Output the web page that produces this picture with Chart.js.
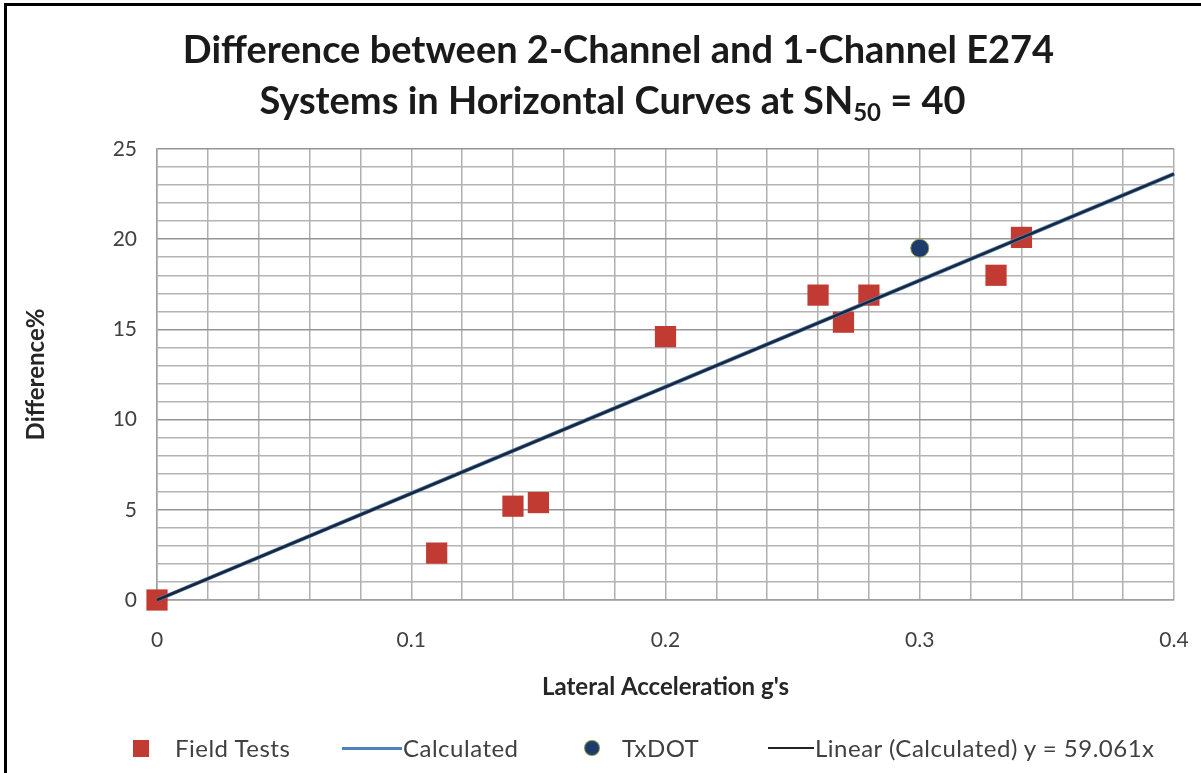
<!DOCTYPE html>
<html>
<head>
<meta charset="utf-8">
<script src="https://cdn.jsdelivr.net/npm/chart.js@4/dist/chart.umd.min.js"></script>
<style>
    html, body { margin: 0; padding: 0; background: #fff; }
    body { width: 1201px; height: 773px; position: relative; overflow: hidden; font-family: Lato, "Open Sans", sans-serif; }
    .frame { position: absolute; left: 4px; top: 3px; width: 1300px; height: 900px; border-left: 3px solid #000; border-top: 3px solid #000; }
    #chart { position: absolute; left: 0; top: 0; }
    .c-title { position: absolute; left: 18px; width: 1201px; text-align: center; font-weight: bold; font-size: 38px; color: #1a1a1a; line-height: 1; }
    .c-title sub { font-size: 24px; vertical-align: -7px; }
    .c-legend__item { position: absolute; top: 735px; height: 26px; font-size: 24px; letter-spacing: 0.5px; color: #404040; line-height: 26px; white-space: nowrap; }
    .c-legend__mark { position: absolute; }
</style>
</head>
<body>
<div class="frame"></div>
<canvas id="chart" width="1201" height="773"></canvas>
<div class="c-title" style="top: 29px;">Difference between 2-Channel and 1-Channel E274</div>
<div class="c-title" style="top: 80px; left: 12px;">Systems in Horizontal Curves at SN<sub>50</sub> = 40</div>

<div class="c-legend__mark" style="left:133px; top:740px; width:16px; height:17px; background:#c23b33;"></div>
<div class="c-legend__item" style="left:175px;">Field Tests</div>
<div class="c-legend__mark" style="left:342px; top:747px; width:60px; height:3px; background:#4f81bd;"></div>
<div class="c-legend__item" style="left:403px;">Calculated</div>
<div class="c-legend__mark" style="left:585px; top:741px; width:14px; height:14px; border-radius:50%; background:#1f3b6b; box-shadow:0 0 0 1px #7a9a4a;"></div>
<div class="c-legend__item" style="left:622px;">TxDOT</div>
<div class="c-legend__mark" style="left:768px; top:747px; width:46px; height:2px; background:#222;"></div>
<div class="c-legend__item" style="left:815px;">Linear (Calculated) y = 59.061x</div>

<script>
// Field test points
const fieldX = [0, 0.11, 0.14, 0.15, 0.20, 0.26, 0.27, 0.28, 0.33, 0.34];
const fieldY = [0, 2.6, 5.2, 5.4, 14.6, 16.9, 15.4, 16.9, 18.0, 20.1];

// Calculated line
const calcX = [0, 0.1, 0.2, 0.3, 0.4];
const calcY = [0, 5.91, 11.81, 17.72, 23.62];

// TxDOT point
const txdotX = [0.30];
const txdotY = [19.5];

// Linear trendline (y = 59.061x)
const trendX = [0, 0.4];
const trendY = [0, 23.62];

// Axis ticks
const xTickLabels = [0, 0.1, 0.2, 0.3, 0.4];
const yTickLabels = [0, 5, 10, 15, 20, 25];

const toPoints = (xs, ys) => xs.map((x, i) => ({ x, y: ys[i] }));
const isLabel = (list, v) => list.some(t => Math.abs(t - v) < 1e-6);

const textColor = '#404040';
const fontFamily = 'Lato, "Open Sans", sans-serif';

new Chart(document.getElementById('chart').getContext('2d'), {
    type: 'scatter',
    data: {
        datasets: [
            {
                label: 'Linear (Calculated) y = 59.061x',
                type: 'line',
                data: toPoints(trendX, trendY),
                borderColor: '#1b2738',
                borderWidth: 2.5,
                pointRadius: 0,
                clip: false,
                order: 0
            },
            {
                label: 'Calculated',
                type: 'line',
                data: toPoints(calcX, calcY),
                borderColor: '#4f81bd',
                borderWidth: 4,
                pointRadius: 0,
                clip: false,
                order: 1
            },
            {
                label: 'TxDOT',
                data: toPoints(txdotX, txdotY),
                pointStyle: 'circle',
                pointRadius: 9,
                backgroundColor: '#1f3b6b',
                borderColor: '#7a9a4a',
                borderWidth: 1,
                clip: false,
                order: 2
            },
            {
                label: 'Field Tests',
                data: toPoints(fieldX, fieldY),
                pointStyle: 'rect',
                pointRadius: 15,
                backgroundColor: '#c23b33',
                borderColor: '#c23b33',
                borderWidth: 0,
                clip: false,
                order: 3
            }
        ]
    },
    options: {
        responsive: false,
        animation: false,
        events: [],
        layout: { padding: { left: 18, right: 27, top: 149, bottom: 67 } },
        plugins: {
            legend: { display: false },
            title: { display: false },
            tooltip: { enabled: false }
        },
        scales: {
            x: {
                type: 'linear',
                min: 0,
                max: 0.4,
                afterFit: scale => {
                    scale.height = 106;
                    scale.paddingLeft = 0;
                    scale.paddingRight = 0;
                },
                ticks: {
                    stepSize: 0.02,
                    autoSkip: false,
                    maxRotation: 0,
                    padding: 28,
                    color: textColor,
                    font: { family: fontFamily, size: 21 },
                    callback: v => isLabel(xTickLabels, v) ? String(Math.round(v * 10) / 10) : ''
                },
                grid: {
                    drawTicks: false,
                    color: '#b0b0b0',
                    lineWidth: 1.5
                },
                border: { color: '#a0a0a0', width: 1.5 },
                title: {
                    display: true,
                    text: "Lateral Acceleration g's",
                    color: '#262626',
                    font: { family: fontFamily, size: 24, weight: 'bold' },
                    padding: { top: 4, bottom: 4 }
                }
            },
            y: {
                min: 0,
                max: 25,
                afterFit: scale => {
                    scale.width = 139;
                    scale.paddingTop = 0;
                    scale.paddingBottom = 0;
                },
                ticks: {
                    stepSize: 1,
                    autoSkip: false,
                    padding: 20,
                    color: textColor,
                    font: { family: fontFamily, size: 21 },
                    callback: v => isLabel(yTickLabels, v) ? String(v) : ''
                },
                grid: {
                    drawTicks: false,
                    color: ctx => (ctx.tick && ctx.tick.value % 5 === 0) ? '#959595' : '#b4b4b4',
                    lineWidth: 1.5
                },
                border: { color: '#a0a0a0', width: 1.5 },
                title: {
                    display: true,
                    text: 'Difference%',
                    color: '#262626',
                    font: { family: fontFamily, size: 24, weight: 'bold' },
                    padding: { top: 4, bottom: 4 }
                }
            }
        }
    }
});
</script>
</body>
</html>
